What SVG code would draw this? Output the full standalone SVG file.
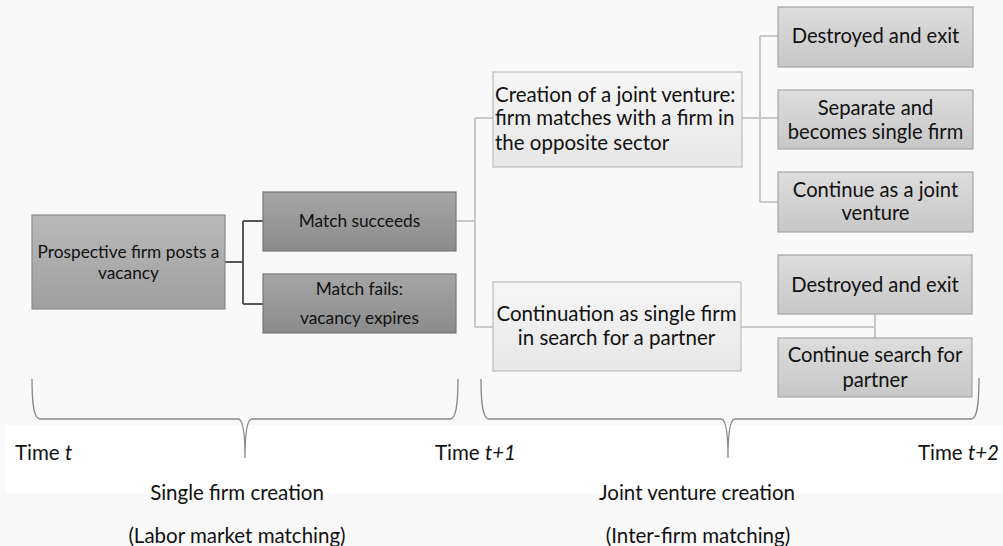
<svg xmlns="http://www.w3.org/2000/svg" width="1003" height="546" viewBox="0 0 1003 546">
<defs>
<linearGradient id="g1" x1="0" y1="0" x2="0" y2="1"><stop offset="0" stop-color="#b9b9b9"/><stop offset="1" stop-color="#9f9f9f"/></linearGradient>
<linearGradient id="g2" x1="0" y1="0" x2="0" y2="1"><stop offset="0" stop-color="#a6a6a6"/><stop offset="1" stop-color="#8b8b8b"/></linearGradient>
<linearGradient id="g3" x1="0" y1="0" x2="0" y2="1"><stop offset="0" stop-color="#f6f6f6"/><stop offset="1" stop-color="#e7e7e7"/></linearGradient>
<linearGradient id="g4" x1="0" y1="0" x2="0" y2="1"><stop offset="0" stop-color="#dddddd"/><stop offset="1" stop-color="#c7c7c7"/></linearGradient>
</defs>
<style>
text{font-family:Lato,"Liberation Sans",sans-serif;fill:#111;}
.t{font-size:17.3px;text-anchor:middle;}
.t3{font-size:20.5px;}
.t3c{font-size:20.5px;text-anchor:middle;}
.t4{font-size:20.2px;text-anchor:middle;}
.b{font-size:20.5px;}
.bc{font-size:20.5px;text-anchor:middle;}
.n1{fill:url(#g1);stroke:#8a8a8a;stroke-width:1.2;}
.n2{fill:url(#g2);stroke:#777;stroke-width:1.2;}
.n3{fill:url(#g3);stroke:#bdbdbd;stroke-width:1.2;}
.n4{fill:url(#g4);stroke:#a5a5a5;stroke-width:1.2;}
.cd{fill:none;stroke:#555;stroke-width:2;}
.cl{fill:none;stroke:#c9c9c9;stroke-width:2;}
.br{fill:none;stroke:#888;stroke-width:1.3;}
</style>
<rect x="0" y="0" width="1003" height="546" fill="#f9f9f9"/>
<rect x="5" y="425" width="998" height="68" fill="#ffffff"/>
<g id="connectors">
<path class="cd" d="M225 262H243M243 221V304M243 221H263M243 304H263"/>
<path class="cl" d="M456 221H475M475 118V327M475 118H493M475 327H493"/>
<path class="cl" d="M742 118H760M760 36V202M760 36H778M760 118H778M760 202H778"/>
<path class="cl" d="M741 327H875M875 314V338"/>
</g>
<g id="n-prospective"><rect class="n1" x="32" y="215" width="193" height="94"/><text class="t" x="128.5" y="258">Prospective firm posts a</text><text class="t" x="128.5" y="279">vacancy</text></g>
<g id="n-succeeds"><rect class="n2" x="263" y="192" width="193" height="59"/><text class="t" x="359.5" y="227">Match succeeds</text></g>
<g id="n-fails"><rect class="n2" x="263" y="274" width="193" height="59"/><text class="t" x="359.5" y="295">Match fails:</text><text class="t" x="359.5" y="324">vacancy expires</text></g>
<g id="n-creation"><rect class="n3" x="493" y="72" width="249" height="95"/><text class="t3" x="495" y="102">Creation of a joint venture:</text><text class="t3" x="495" y="125">firm matches with a firm in</text><text class="t3" x="495" y="150">the opposite sector</text></g>
<g id="n-continuation"><rect class="n3" x="493" y="282" width="248" height="89"/><text class="t3c" x="616.5" y="321">Continuation as single firm</text><text class="t3c" x="616.5" y="345">in search for a partner</text></g>
<g id="n-destroyed1"><rect class="n4" x="778" y="7" width="195" height="60"/><text class="t4" x="875.5" y="43">Destroyed and exit</text></g>
<g id="n-separate"><rect class="n4" x="778" y="90" width="195" height="59"/><text class="t4" x="875.5" y="115">Separate and</text><text class="t4" x="875.5" y="139">becomes single firm</text></g>
<g id="n-continuejv"><rect class="n4" x="778" y="172" width="195" height="60"/><text class="t4" x="875.5" y="197">Continue as a joint</text><text class="t4" x="875.5" y="220">venture</text></g>
<g id="n-destroyed2"><rect class="n4" x="778" y="255" width="194" height="59"/><text class="t4" x="875" y="292">Destroyed and exit</text></g>
<g id="n-search"><rect class="n4" x="778" y="338" width="194" height="59"/><text class="t4" x="875" y="362">Continue search for</text><text class="t4" x="875" y="387">partner</text></g>
<g id="braces">
<path class="br" d="M32 379C32 405 34 419 40 419H238C242 419 245 430 245 458M458 379C458 405 456 419 450 419H252C248 419 245 430 245 458"/>
<path class="br" d="M481 379C481 405 483 419 489 419H721C725 419 728 430 728 458M979 378C979 405 977 419 971 419H735C731 419 728 430 728 458"/>
</g>
<g id="labels">
<text class="b" x="15" y="460">Time <tspan font-style="italic">t</tspan></text>
<text class="b" x="435" y="460">Time <tspan font-style="italic">t+1</tspan></text>
<text class="b" x="918" y="460">Time <tspan font-style="italic">t+2</tspan></text>
<text class="bc" x="237" y="500">Single firm creation</text>
<text class="bc" x="237" y="543">(Labor market matching)</text>
<text class="bc" x="697" y="500">Joint venture creation</text>
<text class="bc" x="698" y="543">(Inter-firm matching)</text>
</g>
</svg>
